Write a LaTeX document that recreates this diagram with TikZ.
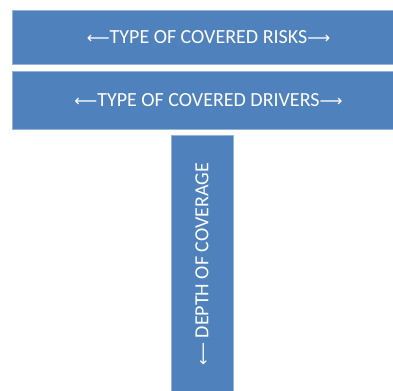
\documentclass[tikz,border=0pt]{standalone}
\usepackage{fontspec}
\setmainfont{Carlito}
\newfontfamily\arrowfont{DejaVu Sans}
\usepackage{tikz}
\definecolor{officeblue}{HTML}{4F81BD}
\tikzstyle{band} = [rectangle, fill=officeblue, draw=officeblue!60, line width=0.4pt, minimum width=294.75pt, text=white, inner sep=0pt, font=\fontsize{15}{18}\selectfont]
\tikzstyle{depth} = [rectangle, fill=officeblue, draw=officeblue!60, line width=0.4pt, minimum width=46.5pt, minimum height=192pt, text=white, inner sep=0pt, font=\fontsize{15}{18}\selectfont]
\newcommand{\lar}{{\arrowfont\fontsize{12}{14}\selectfont ⟵}}
\newcommand{\rar}{{\arrowfont\fontsize{12}{14}\selectfont ⟶}}

\begin{document}
\begin{tikzpicture}[x=0.75pt, y=-0.75pt]
		\useasboundingbox (0,0) rectangle (393,391);
		\node[band, minimum height=40.5pt] (risks) at (208.5,37.5) {\lar TYPE OF COVERED RISKS\rar};
		\node[band, minimum height=43.5pt, below of=risks, node distance=47.25pt] (drivers) {\lar TYPE OF COVERED DRIVERS\rar};
		\node[depth] (cover) at (202,263) {};
		\node[rotate=90, text=white, font=\fontsize{15}{18}\selectfont] (covertext) at ([yshift=-1pt]cover.center) {\lar\ DEPTH OF COVERAGE};
\end{tikzpicture}
\end{document}
